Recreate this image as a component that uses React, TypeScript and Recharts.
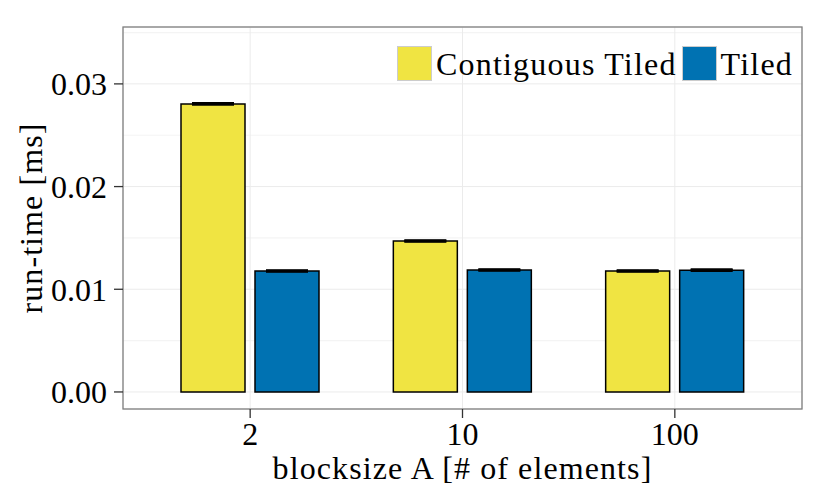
import React from 'react';
import * as RC from 'recharts';
import { BarChart, Bar, XAxis, YAxis, CartesianGrid, ErrorBar } from 'recharts';

const categories = ['2', '10', '100'];
const contiguousTiled = [0.02805, 0.0147, 0.01178];
const tiled = [0.01178, 0.01188, 0.01186];
const contiguousErr = [0.00003, 0.00003, 0.00003];
const tiledErr = [0.00003, 0.00003, 0.00003];
const yTicks = [0, 0.01, 0.02, 0.03];
const yTickLabels = ['0.00', '0.01', '0.02', '0.03'];
const minorTicks = [0.005, 0.015, 0.025, 0.035];
const seriesNames = ['Contiguous Tiled', 'Tiled'];
const seriesColors = ['#F0E442', '#0072B2'];

const data = categories.map((c, i) => ({
  cat: c,
  ct: contiguousTiled[i],
  ctErr: contiguousErr[i],
  t: tiled[i],
  tErr: tiledErr[i],
}));

const FONT = '"Liberation Serif", serif';
const Y_MIN = -0.00166;
const Y_MAX = 0.03554;

const anyRC = RC as any;
const usePlotAreaHook: () => any = anyRC.usePlotArea || (() => undefined);
const useOffsetHook: () => any = anyRC.useOffset || (() => undefined);
const useWidthHook: () => any = anyRC.useChartWidth || (() => undefined);
const useHeightHook: () => any = anyRC.useChartHeight || (() => undefined);

const PanelBorder = () => {
  const area = usePlotAreaHook();
  const off = useOffsetHook();
  const w = useWidthHook();
  const h = useHeightHook();
  let r: { x: number; y: number; width: number; height: number } | null = null;
  if (area && typeof area.x === 'number') {
    r = { x: area.x, y: area.y, width: area.width, height: area.height };
  } else if (off && typeof off.left === 'number' && typeof w === 'number' && typeof h === 'number') {
    r = { x: off.left, y: off.top, width: w - off.left - off.right, height: h - off.top - off.bottom };
  }
  if (!r) return null;
  return <rect x={r.x} y={r.y} width={r.width} height={r.height} fill="none" stroke="#7f7f7f" strokeWidth={1.3} />;
};

const LegendBox = () => (
  <div
    style={{
      position: 'absolute',
      left: 397,
      top: 46,
      display: 'flex',
      alignItems: 'center',
      fontFamily: FONT,
      fontSize: 32,
      letterSpacing: 1.2,
      color: '#000',
      whiteSpace: 'nowrap',
    }}
  >
    {seriesNames.map((n, i) => (
      <div key={n} style={{ display: 'flex', alignItems: 'center', marginRight: i === 0 ? 5 : 0 }}>
        <div style={{ width: 33, height: 33, background: seriesColors[i], border: '1px solid #cccccc', marginRight: 4 }} />
        <span style={{ lineHeight: '34px' }}>{n}</span>
      </div>
    ))}
  </div>
);

export default function App() {
  return (
    <div style={{ position: 'absolute', left: 0, top: 0, width: 830, height: 498, background: '#fff' }}>
      <BarChart
        width={830}
        height={498}
        data={data}
        margin={{ top: 27, right: 28, bottom: 0, left: 0 }}
        barSize={64}
        barGap={10}
      >
        <CartesianGrid stroke="#f4f4f4" strokeWidth={1.2} vertical={false} horizontalValues={minorTicks} />
        <CartesianGrid stroke="#ebebeb" strokeWidth={1} />
        <XAxis
          dataKey="cat"
          height={89}
          padding={{ left: 21, right: 21 }}
          axisLine={false}
          tickLine={{ stroke: '#333', strokeWidth: 1.3 }}
          tickSize={9}
          tickMargin={4}
          tick={{ fontFamily: FONT, fontSize: 32, fill: '#000' }}
          label={{ value: 'blocksize A [# of elements]', position: 'insideBottom', offset: 19, style: { fontFamily: FONT, fontSize: 32, letterSpacing: 1.1, fill: '#000' } }}
        />
        <YAxis
          width={123}
          domain={[Y_MIN, Y_MAX]}
          ticks={yTicks}
          allowDataOverflow
          axisLine={false}
          tickLine={{ stroke: '#333', strokeWidth: 1.3 }}
          tickSize={9}
          tickMargin={7}
          tickFormatter={(v: number) => yTickLabels[yTicks.indexOf(v)] ?? String(v)}
          tick={{ fontFamily: FONT, fontSize: 32, fill: '#000' }}
          label={{ value: 'run-time [ms]', angle: -90, position: 'insideLeft', offset: 31, style: { fontFamily: FONT, fontSize: 32, letterSpacing: 1.1, fill: '#000', textAnchor: 'middle' } }}
        />
        <Bar dataKey="ct" name={seriesNames[0]} fill={seriesColors[0]} stroke="#000" strokeWidth={1.5} isAnimationActive={false}>
          <ErrorBar dataKey="ctErr" direction="y" width={21} stroke="#000" strokeWidth={3} />
        </Bar>
        <Bar dataKey="t" name={seriesNames[1]} fill={seriesColors[1]} stroke="#000" strokeWidth={1.5} isAnimationActive={false}>
          <ErrorBar dataKey="tErr" direction="y" width={21} stroke="#000" strokeWidth={3} />
        </Bar>
        <PanelBorder />
      </BarChart>
      <LegendBox />
    </div>
  );
}
